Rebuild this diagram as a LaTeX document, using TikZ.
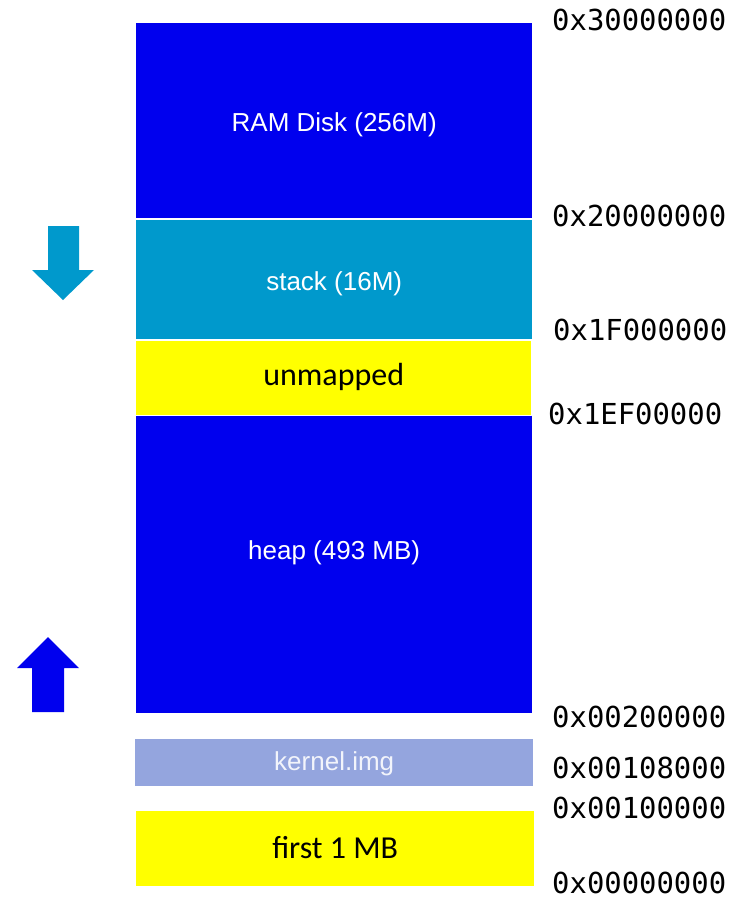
\documentclass[tikz,border=0pt]{standalone}
\usepackage{fontspec}
\setmainfont{Liberation Sans}
\newfontfamily\calfont{Carlito}
\newfontfamily\hexfont{DejaVu Sans Mono}
\definecolor{ramblue}{RGB}{0,0,238}
\definecolor{stackblue}{RGB}{0,153,204}
\definecolor{kernelblue}{RGB}{148,165,222}
\definecolor{freeyellow}{RGB}{255,255,0}

\begin{document}
\begin{tikzpicture}[x=1pt, y=-1pt,
  mem/.style={rectangle, inner sep=0pt, anchor=north west},
  lbl/.style={text=white, inner sep=0pt, yshift=-4pt, font=\fontsize{26}{26}\selectfont},
  lblc/.style={text=black, inner sep=0pt, font=\calfont\fontsize{32}{32}\selectfont},
  addr/.style={anchor=west, inner sep=0pt, font=\hexfont\fontsize{28.9}{28.9}\selectfont}]
\useasboundingbox (0,0) rectangle (733,899);
% memory regions, top to bottom
\node[mem, fill=ramblue, minimum width=396pt, minimum height=195pt] (ramdisk) at (136,23){};
\node[mem, fill=stackblue, minimum width=396pt, minimum height=119pt] (stack) at (136,220){};
\node[mem, fill=freeyellow, minimum width=395pt, minimum height=74pt] (unmapped) at (136,341){};
\node[mem, fill=ramblue, minimum width=396pt, minimum height=297pt] (heap) at (136,416){};
\node[mem, fill=kernelblue, minimum width=398pt, minimum height=47pt] (kernel) at (135,739){};
\node[mem, fill=freeyellow, minimum width=398pt, minimum height=75pt] (first) at (136,811){};
\node[lbl] (ramdisk-txt) at (ramdisk.center){RAM Disk (256M)};
\node[lbl] (stack-txt) at (stack.center){stack (16M)};
\node[lblc, yshift=1pt] (unmapped-txt) at (unmapped.center){unmapped};
\node[lbl, yshift=15.5pt] (heap-txt) at (heap.center){heap (493 MB)};
\node[lbl, yshift=3pt, text=white!88!kernelblue] (kernel-txt) at (kernel.center){kernel.img};
\node[lblc, yshift=1.5pt] (first-txt) at (first.center){first 1 MB};
% addresses
\node[addr] (a0) at (552,20){0x30000000};
\node[addr] (a1) at (552,216){0x20000000};
\node[addr] (a2) at (553,330){0x1F000000};
\node[addr] (a3) at (548,414){0x1EF00000};
\node[addr] (a4) at (552,717){0x00200000};
\node[addr] (a5) at (552,768){0x00108000};
\node[addr] (a6) at (552,808){0x00100000};
\node[addr] (a7) at (552,883){0x00000000};
% growth arrows
\fill[stackblue] (48,226) -- (79,226) -- (79,270) -- (94,270) -- (63,300) -- (32,270) -- (48,270) -- cycle;
\fill[ramblue] (32,712) -- (64,712) -- (64,668) -- (79,668) -- (48,637) -- (17,668) -- (32,668) -- cycle;
\end{tikzpicture}
\end{document}
